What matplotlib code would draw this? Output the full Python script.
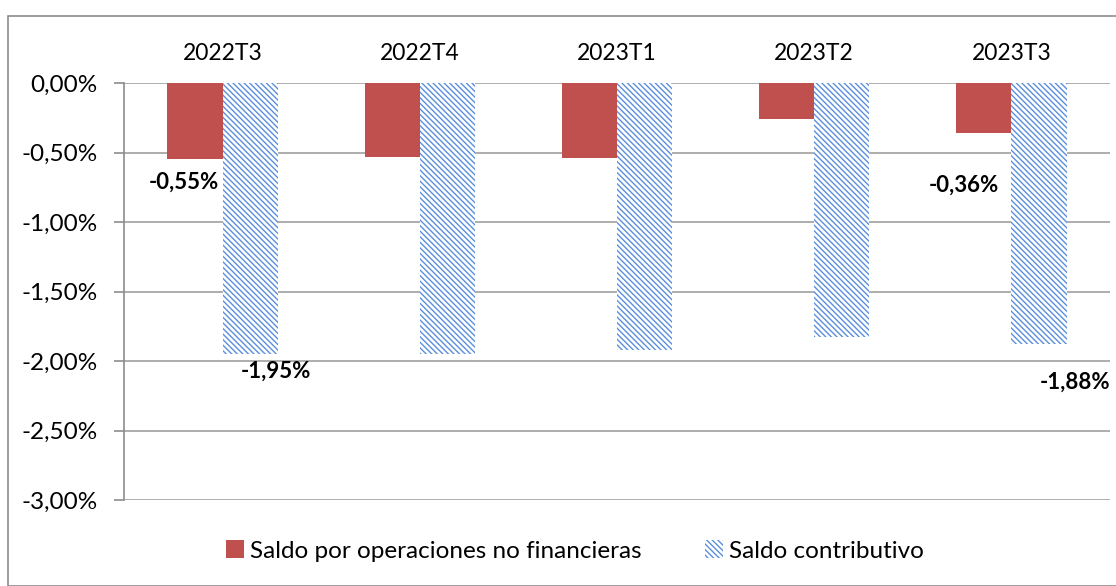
import numpy as np
import matplotlib.pyplot as plt
from matplotlib.patches import Rectangle, Patch
from matplotlib.ticker import FuncFormatter

plt.rcParams['font.family'] = ['Lato', 'DejaVu Sans']
plt.rcParams['hatch.linewidth'] = 1.0

quarters = ['2022T3', '2022T4', '2023T1', '2023T2', '2023T3']
saldo_no_fin = [-0.55, -0.53, -0.54, -0.26, -0.36]
saldo_contrib = [-1.95, -1.95, -1.92, -1.83, -1.88]

red = '#C0504D'
blue = '#5B8FDB'
hatch = '\\' * 6

fig = plt.figure(figsize=(11.16, 5.86), dpi=100)
fig.patches.append(Rectangle((8 / 1116, 0), 1.2, 1 - 16 / 586, transform=fig.transFigure,
                             fill=False, edgecolor='#8C8C8C', linewidth=1.2))
ax = fig.add_axes([124 / 1116, 1 - 500 / 586, (1110 - 124) / 1116, (500 - 83) / 586])

x = np.arange(len(quarters))
w = 0.28
ax.bar(x - w / 2, saldo_no_fin, w, color=red, linewidth=0)
ax.bar(x + w / 2, saldo_contrib, w, color='white', edgecolor=blue, hatch=hatch, linewidth=0)

ax.set_xlim(-0.5, len(quarters) - 0.5)
ax.set_ylim(-3.0, 0.0)
ax.set_yticks(np.arange(-3.0, 0.01, 0.5))
ax.yaxis.set_major_formatter(FuncFormatter(lambda v, p: f'{v:.2f}%'.replace('.', ',').replace('-0,00', '0,00')))
ax.grid(axis='y', color='#A0A0A0', linewidth=1.2)
ax.set_axisbelow(True)

ax.xaxis.tick_top()
ax.set_xticks(x)
ax.set_xticklabels(quarters, fontsize=16.5)
ax.tick_params(axis='x', length=0, pad=14)
ax.tick_params(axis='y', labelsize=17.5, length=7, color='#8C8C8C', width=1.2, pad=12)
for s in ['top', 'right', 'bottom']:
    ax.spines[s].set_visible(False)
ax.spines['left'].set_color('#8C8C8C')
ax.spines['left'].set_linewidth(1.2)

def fmt(v):
    return f'{v:.2f}%'.replace('.', ',')

# data labels shown only for first and last quarter (offsets in pixels)
labels = [
    (x[0] - w / 2, saldo_no_fin[0], (-11, -12)),
    (x[0] + w / 2, saldo_contrib[0], (26, -7)),
    (x[4] - w / 2, saldo_no_fin[4], (-20, -42)),
    (x[4] + w / 2, saldo_contrib[4], (36, -27)),
]
for xp, v, off in labels:
    ax.annotate(fmt(v), (xp, v), xytext=off, textcoords='offset pixels',
                ha='center', va='top', fontsize=16, fontweight='bold')

handles = [Patch(facecolor=red, linewidth=0),
           Patch(facecolor='white', edgecolor=blue, hatch=hatch, linewidth=0)]
fig.legend(handles, ['Saldo por operaciones no financieras', 'Saldo contributivo'],
           loc='center', bbox_to_anchor=(0.515, 1 - 551 / 586), ncol=2, frameon=False,
           fontsize=17.5, handlelength=0.75, handleheight=0.75, handletextpad=0.25,
           columnspacing=2.6)

fig.savefig('out.png', dpi=100)
